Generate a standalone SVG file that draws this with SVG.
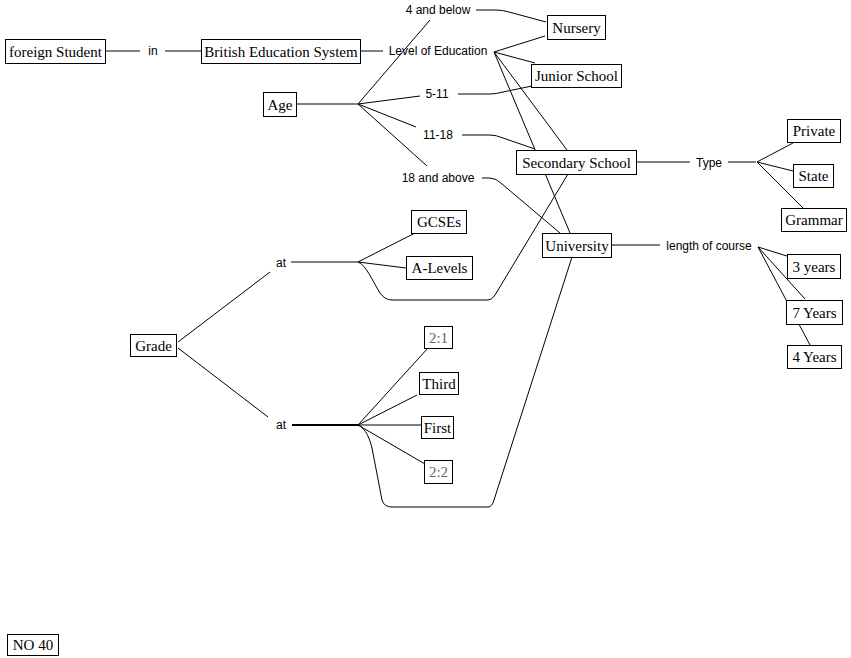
<svg xmlns="http://www.w3.org/2000/svg" width="851" height="658" viewBox="0 0 851 658">
<style>
.n rect{fill:#fff;stroke:#000;stroke-width:1}
.n text{font-family:"Liberation Serif","Times New Roman",serif;font-size:15px;fill:#000;text-anchor:middle}
.n text.g{fill:#666}
.l{font-family:"Liberation Sans",Arial,sans-serif;font-size:12px;fill:#000;text-anchor:middle}
#connectors path{fill:none;stroke:#000;stroke-width:1}
</style>
<rect width="851" height="658" fill="#fff"/>
<g id="connectors">
<path d="M105,51 H140 M165,51 H201"/>
<path d="M360,51 H383"/>
<path d="M296,104 H358"/>
<path d="M358,104 L430,20 M358,104 L420,96 M358,104 L416,127 M358,104 L427,166"/>
<path d="M476,10 H496 Q502,10 509,12 L546,22"/>
<path d="M494,52 L545,36 M494,52 L535,63 M494,52 L567,150 M494,52 L570,233"/>
<path d="M458,94 H490 Q496,94 503,92 L532,86"/>
<path d="M462,135 H490 Q496,135 503,138 L535,149"/>
<path d="M482,178 H490 Q496,178 502,184 L560,233"/>
<path d="M636,162 H690 M728,162 H756"/>
<path d="M757,162 L793,143 M757,162 L793,171 M757,162 L803,208"/>
<path d="M611,245 H660"/>
<path d="M758,247 L787,256 M758,247 L805,299 M758,247 L810,345"/>
<path d="M178,342 L270,272 M178,348 L268,417"/>
<path d="M291,262 H358 M358,262 L415,233 M358,262 L406,268"/>
<path d="M358,262 C366,265 372,280 380,293 Q385,300 392,300 H488 Q492,300 495,295 L568,174"/>
<path d="M292,425 H358" style="stroke-width:2"/>
<path d="M358,425 L428,348 M358,425 L417,395 M358,425 L421,425 M358,425 L425,464"/>
<path d="M358,425 C366,428 370,440 372,448 L382,500 Q384,507 392,507 H488 Q492,507 494,500 L572,257"/>
</g>
<g id="labels">
<text class="l" x="153" y="55">in</text>
<text class="l" x="438" y="55">Level of Education</text>
<text class="l" x="438" y="14">4 and below</text>
<text class="l" x="437" y="98">5-11</text>
<text class="l" x="438" y="139">11-18</text>
<text class="l" x="438" y="182">18 and above</text>
<text class="l" x="709" y="167">Type</text>
<text class="l" x="709" y="250">length of course</text>
<text class="l" x="281" y="267">at</text>
<text class="l" x="281" y="429">at</text>
</g>
<g id="foreign-student" class="n"><rect x="5.5" y="39.5" width="100" height="24"/><text x="55.5" y="56.5">foreign Student</text></g>
<g id="british-education-system" class="n"><rect x="201.5" y="39.5" width="159" height="24"/><text x="281" y="56.5">British Education System</text></g>
<g id="age" class="n"><rect x="263.5" y="92.5" width="33" height="24"/><text x="280" y="109.5">Age</text></g>
<g id="nursery" class="n"><rect x="547.5" y="15.5" width="58" height="24"/><text x="576.5" y="32.5">Nursery</text></g>
<g id="junior-school" class="n"><rect x="531.5" y="64.5" width="90" height="23"/><text x="576.5" y="81">Junior School</text></g>
<g id="secondary-school" class="n"><rect x="516.5" y="150.5" width="120" height="24"/><text x="576.5" y="167.5">Secondary School</text></g>
<g id="university" class="n"><rect x="542.5" y="233.5" width="69" height="24"/><text x="577" y="250.5">University</text></g>
<g id="private" class="n"><rect x="787.5" y="119.5" width="53" height="23"/><text x="814" y="136">Private</text></g>
<g id="state" class="n"><rect x="793.5" y="164.5" width="40" height="23"/><text x="813.5" y="181">State</text></g>
<g id="grammar" class="n"><rect x="781.5" y="208.5" width="65" height="23"/><text x="814" y="225">Grammar</text></g>
<g id="three-years" class="n"><rect x="787.5" y="254.5" width="53" height="24"/><text x="814" y="271.5">3 years</text></g>
<g id="seven-years" class="n"><rect x="786.5" y="300.5" width="56" height="24"/><text x="814.5" y="317.5">7 Years</text></g>
<g id="four-years" class="n"><rect x="787.5" y="345.5" width="54" height="23"/><text x="814.5" y="362">4 Years</text></g>
<g id="gcses" class="n"><rect x="411.5" y="210.5" width="55" height="23"/><text x="439" y="227">GCSEs</text></g>
<g id="a-levels" class="n"><rect x="406.5" y="256.5" width="66" height="23"/><text x="439.5" y="273">A-Levels</text></g>
<g id="grade" class="n"><rect x="130.5" y="334.5" width="46" height="22"/><text x="153.5" y="350.5">Grade</text></g>
<g id="two-one" class="n"><rect x="424.5" y="326.5" width="28" height="22"/><text class="g" x="438.5" y="342.5">2:1</text></g>
<g id="third" class="n"><rect x="419.5" y="372.5" width="39" height="22"/><text x="439" y="388.5">Third</text></g>
<g id="first" class="n"><rect x="421.5" y="416.5" width="32" height="22"/><text x="437.5" y="432.5">First</text></g>
<g id="two-two" class="n"><rect x="424.5" y="460.5" width="28" height="23"/><text class="g" x="438.5" y="477">2:2</text></g>
<g id="no-40" class="n"><rect x="7.5" y="634.5" width="51" height="21"/><text x="33" y="650">NO 40</text></g>
</svg>
